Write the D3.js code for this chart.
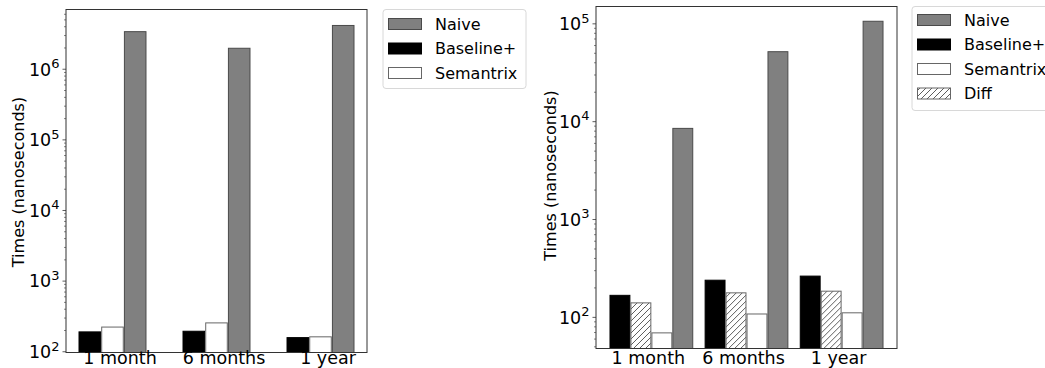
<!DOCTYPE html>
<html lang="en">
<head>
<meta charset="utf-8">
<title>Query times</title>
<script src="https://cdn.jsdelivr.net/npm/d3@7"></script>
<style>
    body { margin: 0; background: #fff; font-family: 'DejaVu Sans', sans-serif; }
    svg { display: block; }
</style>
</head>
<body>
<script>
    // data
    var categories = ["1 month", "6 months", "1 year"];

    // left chart
    var leftSeries = ["Baseline+", "Semantrix", "Naive"];
    var leftBaseline = [188, 192, 156];
    var leftSemantrix = [220, 252, 160];
    var leftNaive = [3.35e6, 1.95e6, 4.1e6];

    // right chart
    var rightSeries = ["Baseline+", "Diff", "Semantrix", "Naive"];
    var rightBaseline = [166, 237, 261];
    var rightDiff = [139, 176, 183];
    var rightSemantrix = [68.6, 107, 110];
    var rightNaive = [8.44e3, 5.13e4, 1.05e5];

    var leftLegend = ["Naive", "Baseline+", "Semantrix"];
    var rightLegend = ["Naive", "Baseline+", "Semantrix", "Diff"];

    var W = 1045, H = 368;
    var svg = d3.select("body").append("svg")
        .attr("width", W)
        .attr("height", H);

    // hatch for Diff
    var defs = svg.append("defs");
    var pat = defs.append("pattern")
        .attr("id", "hatch")
        .attr("patternUnits", "userSpaceOnUse")
        .attr("width", 6)
        .attr("height", 6);
    pat.append("rect").attr("width", 6).attr("height", 6).attr("fill", "white");
    pat.append("path")
        .attr("d", "M0,6 L6,0 M-1,1 L1,-1 M5,7 L7,5")
        .attr("stroke", "#333")
        .attr("stroke-width", 0.8);

    var styles = {
        "Naive": { fill: "#808080", stroke: "#4a4a4a" },
        "Baseline+": { fill: "#000000", stroke: "#000000" },
        "Semantrix": { fill: "#ffffff", stroke: "#666666" },
        "Diff": { fill: "url(#hatch)", stroke: "#666666" }
    };

    function drawChart(cfg) {
        var g = svg.append("g");

        var x = d3.scaleBand()
            .domain(categories)
            .range([cfg.left, cfg.right])
            .paddingInner(cfg.padIn)
            .paddingOuter(cfg.padOut);

        var xs = d3.scaleBand()
            .domain(cfg.series)
            .range([0, x.bandwidth()])
            .paddingInner(0.05);

        var y = d3.scaleLog()
            .domain(cfg.yDomain)
            .range([cfg.bottom, cfg.top]);

        // minor ticks
        var minors = [];
        var e0 = Math.floor(Math.log10(cfg.yDomain[0]));
        var e1 = Math.ceil(Math.log10(cfg.yDomain[1]));
        for (var e = e0; e <= e1; e++) {
            for (var m = 2; m <= 9; m++) {
                var v = m * Math.pow(10, e);
                if (v > cfg.yDomain[0] && v < cfg.yDomain[1]) minors.push(v);
            }
        }
        var majors = cfg.majors;

        var minorAxis = g.append("g")
            .attr("transform", "translate(" + cfg.left + ",0)")
            .call(d3.axisLeft(y).tickValues(minors).tickSize(2).tickFormat(function () { return ""; }));
        minorAxis.select(".domain").remove();
        minorAxis.selectAll("line").attr("stroke", "#333").attr("stroke-width", 0.6);

        var majorAxis = g.append("g")
            .attr("transform", "translate(" + cfg.left + ",0)")
            .call(d3.axisLeft(y).tickValues(majors).tickSize(3.5).tickPadding(3));
        majorAxis.select(".domain").remove();
        majorAxis.selectAll("line").attr("stroke", "#333").attr("stroke-width", 0.8);
        majorAxis.selectAll(".tick text")
            .attr("font-family", "DejaVu Sans")
            .attr("font-size", 17.5)
            .attr("fill", "#000")
            .attr("dy", "0.36em")
            .each(function (d) {
                var t = d3.select(this);
                t.text(null);
                t.append("tspan").text("10");
                t.append("tspan")
                    .attr("dy", -7.5)
                    .attr("font-size", 13)
                    .text(Math.round(Math.log10(d)));
            });

        // bars
        var groups = g.selectAll(".grp")
            .data(categories)
            .enter().append("g")
            .attr("transform", function (d) { return "translate(" + x(d) + ",0)"; });

        groups.each(function (cat, ci) {
            var gg = d3.select(this);
            cfg.series.forEach(function (s, si) {
                var v = cfg.values[si][ci];
                gg.append("rect")
                    .attr("x", xs(s))
                    .attr("y", y(v))
                    .attr("width", xs.bandwidth())
                    .attr("height", cfg.bottom - y(v))
                    .attr("fill", styles[s].fill)
                    .attr("stroke", styles[s].stroke)
                    .attr("stroke-width", 1);
            });
        });

        // frame
        g.append("rect")
            .attr("x", cfg.left)
            .attr("y", cfg.top)
            .attr("width", cfg.right - cfg.left)
            .attr("height", cfg.bottom - cfg.top)
            .attr("fill", "none")
            .attr("stroke", "#333")
            .attr("stroke-width", 1);

        // category labels
        g.selectAll(".cat")
            .data(categories)
            .enter().append("text")
            .attr("x", function (d) { return x(d) + x.bandwidth() / 2 + cfg.labelShift; })
            .attr("y", cfg.labelY)
            .attr("text-anchor", "middle")
            .attr("font-size", 17.5)
            .attr("fill", "#000")
            .text(function (d) { return d; });

        // y label
        g.append("text")
            .attr("transform", "translate(" + cfg.yLabelX + "," + cfg.yLabelY + ") rotate(-90)")
            .attr("text-anchor", "middle")
            .attr("font-size", 16)
            .attr("fill", "#000")
            .text("Times (nanoseconds)");

        // legend
        var lg = g.append("g");
        lg.append("rect")
            .attr("x", cfg.legX)
            .attr("y", cfg.legY)
            .attr("width", cfg.legW)
            .attr("height", cfg.legH)
            .attr("rx", 3)
            .attr("fill", "white")
            .attr("stroke", "#d8d8d8")
            .attr("stroke-width", 1);
        cfg.legend.forEach(function (s, i) {
            var cy = cfg.legRow0 + i * cfg.legStep;
            lg.append("rect")
                .attr("x", cfg.legX + 5.5)
                .attr("y", cy - 5.5)
                .attr("width", 33)
                .attr("height", 11)
                .attr("fill", styles[s].fill)
                .attr("stroke", styles[s].stroke)
                .attr("stroke-width", 1);
            lg.append("text")
                .attr("x", cfg.legX + 52)
                .attr("y", cy + 5.8)
                .attr("font-size", 16)
                .attr("fill", "#000")
                .text(s);
        });
    }

    drawChart({
        left: 66, right: 367, top: 9.5, bottom: 352.5,
        padIn: 0.356, padOut: 0.125,
        yDomain: [96, 6.9e6],
        majors: [1e2, 1e3, 1e4, 1e5, 1e6],
        series: leftSeries,
        values: [leftBaseline, leftSemantrix, leftNaive],
        labelShift: 7.5, labelY: 363.5,
        yLabelX: 24, yLabelY: 182,
        legend: leftLegend,
        legX: 383, legY: 9.5, legW: 143, legH: 79,
        legRow0: 24, legStep: 24.5
    });

    drawChart({
        left: 596, right: 897, top: 6.5, bottom: 348.5,
        padIn: 0.13, padOut: 0.147,
        yDomain: [47.5, 1.486e5],
        majors: [1e2, 1e3, 1e4, 1e5],
        series: rightSeries,
        values: [rightBaseline, rightDiff, rightSemantrix, rightNaive],
        labelShift: -3, labelY: 363.5,
        yLabelX: 555.5, yLabelY: 175.5,
        legend: rightLegend,
        legX: 912, legY: 6.5, legW: 145, legH: 104,
        legRow0: 20, legStep: 24.5
    });
</script>
</body>
</html>
